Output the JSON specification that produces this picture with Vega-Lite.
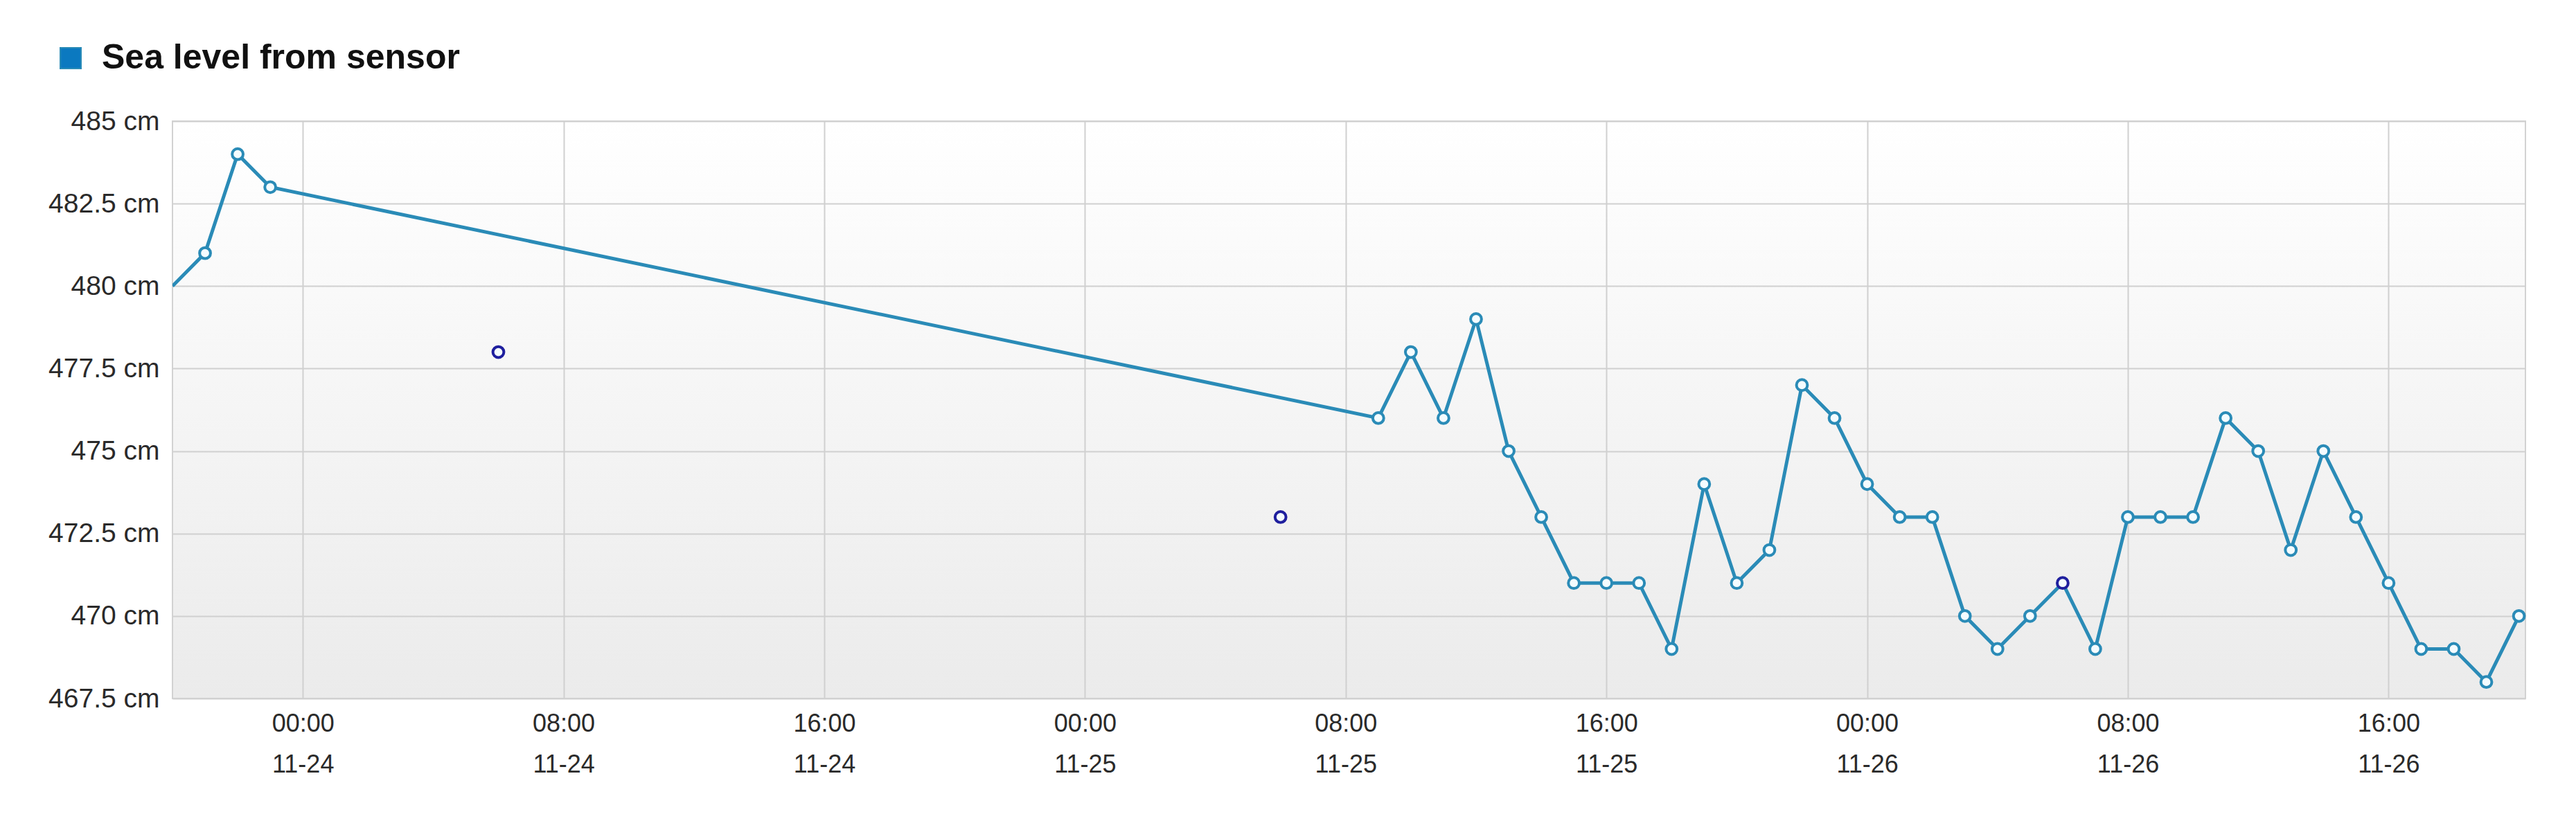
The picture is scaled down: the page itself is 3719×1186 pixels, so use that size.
{
  "$schema": "https://vega.github.io/schema/vega-lite/v6.json",
  "width": 3397,
  "height": 834,
  "autosize": {"type": "none"},
  "padding": {"left": 249, "top": 175, "right": 73, "bottom": 177},
  "background": "#ffffff",
  "config": {
    "view": {
      "stroke": "#d2d2d2",
      "strokeWidth": 2,
      "fill": {"gradient": "linear", "x1": 0, "y1": 0, "x2": 0, "y2": 1, "stops": [{"offset": 0, "color": "#ffffff"}, {"offset": 1, "color": "#ebebeb"}]}
    },
    "font": "Liberation Sans"
  },
  "data": {
    "values": [
      {"t": "2023-11-23T20:00:00Z", "level": 480, "kind": "line", "hi": "no", "series": "Sea level from sensor"},
      {"t": "2023-11-23T21:00:00Z", "level": 481, "kind": "line", "hi": "no", "series": "Sea level from sensor"},
      {"t": "2023-11-23T22:00:00Z", "level": 484, "kind": "line", "hi": "no", "series": "Sea level from sensor"},
      {"t": "2023-11-23T23:00:00Z", "level": 483, "kind": "line", "hi": "no", "series": "Sea level from sensor"},
      {"t": "2023-11-24T06:00:00Z", "level": 478, "kind": "isolated", "hi": "yes", "series": "Sea level from sensor"},
      {"t": "2023-11-25T06:00:00Z", "level": 473, "kind": "isolated", "hi": "yes", "series": "Sea level from sensor"},
      {"t": "2023-11-25T09:00:00Z", "level": 476, "kind": "line", "hi": "no", "series": "Sea level from sensor"},
      {"t": "2023-11-25T10:00:00Z", "level": 478, "kind": "line", "hi": "no", "series": "Sea level from sensor"},
      {"t": "2023-11-25T11:00:00Z", "level": 476, "kind": "line", "hi": "no", "series": "Sea level from sensor"},
      {"t": "2023-11-25T12:00:00Z", "level": 479, "kind": "line", "hi": "no", "series": "Sea level from sensor"},
      {"t": "2023-11-25T13:00:00Z", "level": 475, "kind": "line", "hi": "no", "series": "Sea level from sensor"},
      {"t": "2023-11-25T14:00:00Z", "level": 473, "kind": "line", "hi": "no", "series": "Sea level from sensor"},
      {"t": "2023-11-25T15:00:00Z", "level": 471, "kind": "line", "hi": "no", "series": "Sea level from sensor"},
      {"t": "2023-11-25T16:00:00Z", "level": 471, "kind": "line", "hi": "no", "series": "Sea level from sensor"},
      {"t": "2023-11-25T17:00:00Z", "level": 471, "kind": "line", "hi": "no", "series": "Sea level from sensor"},
      {"t": "2023-11-25T18:00:00Z", "level": 469, "kind": "line", "hi": "no", "series": "Sea level from sensor"},
      {"t": "2023-11-25T19:00:00Z", "level": 474, "kind": "line", "hi": "no", "series": "Sea level from sensor"},
      {"t": "2023-11-25T20:00:00Z", "level": 471, "kind": "line", "hi": "no", "series": "Sea level from sensor"},
      {"t": "2023-11-25T21:00:00Z", "level": 472, "kind": "line", "hi": "no", "series": "Sea level from sensor"},
      {"t": "2023-11-25T22:00:00Z", "level": 477, "kind": "line", "hi": "no", "series": "Sea level from sensor"},
      {"t": "2023-11-25T23:00:00Z", "level": 476, "kind": "line", "hi": "no", "series": "Sea level from sensor"},
      {"t": "2023-11-26T00:00:00Z", "level": 474, "kind": "line", "hi": "no", "series": "Sea level from sensor"},
      {"t": "2023-11-26T01:00:00Z", "level": 473, "kind": "line", "hi": "no", "series": "Sea level from sensor"},
      {"t": "2023-11-26T02:00:00Z", "level": 473, "kind": "line", "hi": "no", "series": "Sea level from sensor"},
      {"t": "2023-11-26T03:00:00Z", "level": 470, "kind": "line", "hi": "no", "series": "Sea level from sensor"},
      {"t": "2023-11-26T04:00:00Z", "level": 469, "kind": "line", "hi": "no", "series": "Sea level from sensor"},
      {"t": "2023-11-26T05:00:00Z", "level": 470, "kind": "line", "hi": "no", "series": "Sea level from sensor"},
      {"t": "2023-11-26T06:00:00Z", "level": 471, "kind": "line", "hi": "yes", "series": "Sea level from sensor"},
      {"t": "2023-11-26T07:00:00Z", "level": 469, "kind": "line", "hi": "no", "series": "Sea level from sensor"},
      {"t": "2023-11-26T08:00:00Z", "level": 473, "kind": "line", "hi": "no", "series": "Sea level from sensor"},
      {"t": "2023-11-26T09:00:00Z", "level": 473, "kind": "line", "hi": "no", "series": "Sea level from sensor"},
      {"t": "2023-11-26T10:00:00Z", "level": 473, "kind": "line", "hi": "no", "series": "Sea level from sensor"},
      {"t": "2023-11-26T11:00:00Z", "level": 476, "kind": "line", "hi": "no", "series": "Sea level from sensor"},
      {"t": "2023-11-26T12:00:00Z", "level": 475, "kind": "line", "hi": "no", "series": "Sea level from sensor"},
      {"t": "2023-11-26T13:00:00Z", "level": 472, "kind": "line", "hi": "no", "series": "Sea level from sensor"},
      {"t": "2023-11-26T14:00:00Z", "level": 475, "kind": "line", "hi": "no", "series": "Sea level from sensor"},
      {"t": "2023-11-26T15:00:00Z", "level": 473, "kind": "line", "hi": "no", "series": "Sea level from sensor"},
      {"t": "2023-11-26T16:00:00Z", "level": 471, "kind": "line", "hi": "no", "series": "Sea level from sensor"},
      {"t": "2023-11-26T17:00:00Z", "level": 469, "kind": "line", "hi": "no", "series": "Sea level from sensor"},
      {"t": "2023-11-26T18:00:00Z", "level": 469, "kind": "line", "hi": "no", "series": "Sea level from sensor"},
      {"t": "2023-11-26T19:00:00Z", "level": 468, "kind": "line", "hi": "no", "series": "Sea level from sensor"},
      {"t": "2023-11-26T20:00:00Z", "level": 470, "kind": "line", "hi": "no", "series": "Sea level from sensor"}
    ]
  },
  "encoding": {
    "x": {
      "field": "t",
      "type": "temporal",
      "scale": {"type": "utc", "domain": [{"year": 2023, "month": 11, "date": 23, "hours": 20, "utc": true}, {"year": 2023, "month": 11, "date": 26, "hours": 20, "minutes": 12, "utc": true}]},
      "axis": {
        "title": null,
        "values": [
          {"year": 2023, "month": 11, "date": 24, "hours": 0, "utc": true},
          {"year": 2023, "month": 11, "date": 24, "hours": 8, "utc": true},
          {"year": 2023, "month": 11, "date": 24, "hours": 16, "utc": true},
          {"year": 2023, "month": 11, "date": 25, "hours": 0, "utc": true},
          {"year": 2023, "month": 11, "date": 25, "hours": 8, "utc": true},
          {"year": 2023, "month": 11, "date": 25, "hours": 16, "utc": true},
          {"year": 2023, "month": 11, "date": 26, "hours": 0, "utc": true},
          {"year": 2023, "month": 11, "date": 26, "hours": 8, "utc": true},
          {"year": 2023, "month": 11, "date": 26, "hours": 16, "utc": true}
        ],
        "labelExpr": "[utcFormat(datum.value, '%H:%M'), utcFormat(datum.value, '%m-%d')]",
        "labelFont": "Liberation Sans",
        "labelFontSize": 36,
        "labelColor": "#2a2a2a",
        "labelLineHeight": 59,
        "labelPadding": 19,
        "ticks": false,
        "domain": false,
        "grid": true,
        "gridColor": "#d0d0d0",
        "gridWidth": 2,
        "labelFlush": false,
        "labelOverlap": false
      }
    },
    "y": {
      "field": "level",
      "type": "quantitative",
      "scale": {"domain": [467.5, 485], "nice": false, "zero": false},
      "axis": {
        "title": null,
        "values": [467.5, 470, 472.5, 475, 477.5, 480, 482.5, 485],
        "labelExpr": "datum.value + ' cm'",
        "labelFont": "Liberation Sans",
        "labelFontSize": 39,
        "labelColor": "#2a2a2a",
        "labelPadding": 19,
        "ticks": false,
        "domain": false,
        "grid": true,
        "gridColor": "#d0d0d0",
        "gridWidth": 2,
        "labelFlush": false,
        "labelOverlap": false
      }
    }
  },
  "layer": [
    {
      "transform": [{"filter": "datum.kind == 'line'"}],
      "mark": {"type": "line", "strokeWidth": 5, "clip": true},
      "encoding": {
        "color": {
          "field": "series",
          "type": "nominal",
          "scale": {"range": ["#2a8bb7"]},
          "legend": {
            "title": null,
            "orient": "none",
            "legendX": -172,
            "legendY": -116,
            "symbolType": "square",
            "symbolSize": 900,
            "labelFont": "Liberation Sans",
            "labelFontSize": 50,
            "labelFontWeight": "bold",
            "labelColor": "#111111",
            "labelOffset": 20,
            "labelLimit": 0,
            "encode": {
              "symbols": {"update": {"fill": {"value": "#0b79c0"}, "stroke": {"value": "#d0d0d0"}, "strokeWidth": {"value": 2}}}
            }
          }
        }
      }
    },
    {
      "transform": [{"filter": "toDate(datum.t) > utc(2023, 10, 23, 20, 30)"}],
      "mark": {"type": "point", "shape": "circle", "filled": false, "fill": "#f4fcff", "size": 250, "strokeWidth": 4, "opacity": 1},
      "encoding": {
        "stroke": {
          "field": "hi",
          "type": "nominal",
          "scale": {"domain": ["no", "yes"], "range": ["#2a8bb7", "#1f1f9e"]},
          "legend": null
        }
      }
    }
  ]
}
